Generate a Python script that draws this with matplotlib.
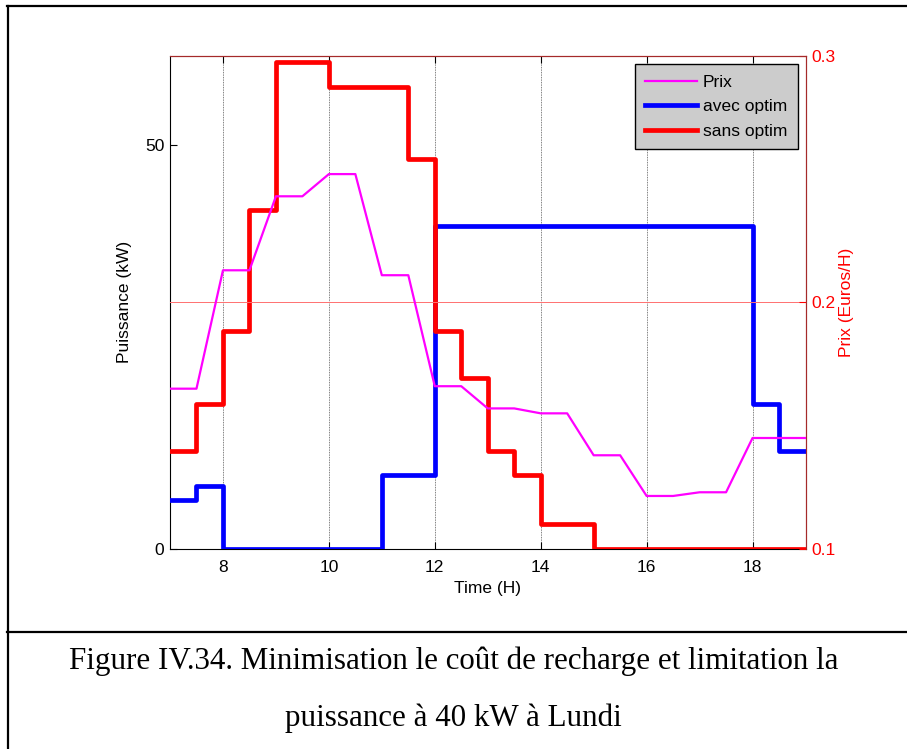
import matplotlib
matplotlib.use("Agg")
import matplotlib.pyplot as plt
from matplotlib.lines import Line2D

# power steps (kW), value holds from hour[i] to hour[i+1]
hours = [7, 7.5, 8, 8.5, 9, 9.5, 10, 10.5, 11, 11.5, 12, 12.5, 13, 13.5,
         14, 14.5, 15, 15.5, 16, 16.5, 17, 17.5, 18, 18.5, 19]
avec_optim = [6.1, 7.8, 0, 0, 0, 0, 0, 0, 9.2, 9.2, 40, 40, 40, 40,
              40, 40, 40, 40, 40, 40, 40, 40, 18, 12.2, 12.2]
sans_optim = [12.1, 18, 27, 42, 60.3, 60.3, 57.2, 57.2, 57.2, 48.3, 27, 21.2, 12.2, 9.2,
              3.1, 3.1, 0, 0, 0, 0, 0, 0, 0, 0, 0]
# price (Euros/H), piecewise linear
prix = [0.165, 0.165, 0.213, 0.213, 0.243, 0.243, 0.252, 0.252, 0.211, 0.211, 0.166, 0.166,
        0.157, 0.157, 0.155, 0.155, 0.138, 0.138, 0.1215, 0.1215, 0.123, 0.123, 0.145, 0.145, 0.145]

xticks = [8, 10, 12, 14, 16, 18]

plt.rcParams['font.family'] = ['Liberation Sans', 'DejaVu Sans']
fs = 12.5
W, H = 907, 749

fig = plt.figure(figsize=(W / 100, H / 100), dpi=100)
ax = fig.add_axes([170 / W, 1 - 549 / H, 635.5 / W, 493.3 / H])
ax2 = ax.twinx()

# vertical dotted grid
for xt in xticks:
    ax.axvline(xt, color='#555555', lw=0.6, ls=(0, (1, 1)), zorder=0)

l_avec, = ax.step(hours, avec_optim, where='post', color='#0000ff', lw=3.4,
                  label='avec optim', zorder=3)
l_sans, = ax.step(hours, sans_optim, where='post', color='#ff0000', lw=3.4,
                  label='sans optim', zorder=4)
l_prix, = ax2.plot(hours, prix, color='#ff00ff', lw=1.6, label='Prix', zorder=5)

ax2.axhline(0.2, color='#ff7070', lw=0.7, zorder=1)

ax.set_xlim(7, 19)
ax.set_ylim(0, 61.1)
ax.set_xticks(xticks)
ax.set_yticks([0, 50])
ax2.set_ylim(0.1, 0.3)
ax2.set_yticks([0.1, 0.2, 0.3])
ax2.set_yticklabels(['0.1', '0.2', '0.3'])

ax.tick_params(direction='in', length=5, width=0.8, labelsize=fs, top=True, pad=4)
ax.tick_params(axis='x', pad=8)
ax2.tick_params(direction='in', length=5, width=0.8, labelsize=fs, colors='#ff0000', pad=4)

for s in ['left', 'bottom']:
    ax.spines[s].set_color('black')
for s in ['right', 'top']:
    ax.spines[s].set_color('#a52a2a')
    ax2.spines[s].set_color('#a52a2a')
ax2.spines['left'].set_visible(False)
ax2.spines['bottom'].set_visible(False)

ax.set_xlabel('Time (H)', fontsize=fs)
ax.set_ylabel('Puissance (kW)', fontsize=fs)
ax2.set_ylabel('Prix (Euros/H)', fontsize=fs, color='#ff0000')
ax.xaxis.label.set_va('center')
ax.yaxis.label.set_va('center')
ax2.yaxis.label.set_va('center')
ax.xaxis.set_label_coords((487 - 170) / 635.5, -(589 - 549) / 493.3)
ax.yaxis.set_label_coords(-(170 - 125) / 635.5, 0.5)
ax2.yaxis.set_label_coords((847 - 170) / 635.5, 0.5)

leg = ax2.legend([l_prix, l_avec, l_sans], ['Prix', 'avec optim', 'sans optim'],
                 loc='upper right', bbox_to_anchor=(0.988, 0.983), fontsize=fs,
                 fancybox=False, framealpha=1, facecolor='#cccccc', edgecolor='black',
                 handlelength=3.0, handletextpad=0.35, labelspacing=0.55,
                 borderpad=0.6, borderaxespad=0)
leg.get_frame().set_linewidth(1.0)

# outer frame and caption box
def hline(y, x0, x1):
    fig.add_artist(Line2D([x0 / W, x1 / W], [1 - y / H, 1 - y / H], color='black', lw=1.6))

def vline(x, y0, y1):
    fig.add_artist(Line2D([x / W, x / W], [1 - y0 / H, 1 - y1 / H], color='black', lw=1.6))

hline(6, 7, W)
hline(632, 7, W)
vline(7.5, 6, H)

cap_font = ['Liberation Serif', 'DejaVu Serif']
fig.text(454 / W, 1 - 661 / H, 'Figure IV.34. Minimisation le coût de recharge et limitation la',
         ha='center', va='center', fontsize=22.3, family=cap_font)
fig.text(453 / W, 1 - 718 / H, 'puissance à 40 kW à Lundi',
         ha='center', va='center', fontsize=22.3, family=cap_font)

fig.savefig('out.png', dpi=100)
